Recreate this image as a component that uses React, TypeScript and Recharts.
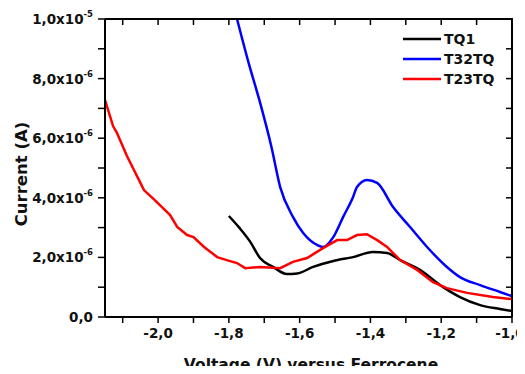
import { Label, Line, LineChart, XAxis, YAxis } from 'recharts'

// Voltage (V vs Fc) and current in units of 1e-6 A.
const tq1Voltage = [-1.8, -1.77, -1.74, -1.712, -1.675, -1.636, -1.607, -1.562, -1.505, -1.449, -1.393, -1.353, -1.316, -1.26, -1.203, -1.147, -1.09, -1.034, -1.0]
const tq1Current = [3.39, 2.99, 2.53, 1.98, 1.68, 1.44, 1.46, 1.68, 1.88, 2.01, 2.18, 2.15, 1.91, 1.58, 1.07, 0.67, 0.4, 0.27, 0.2]

const t32Voltage = [-1.777, -1.745, -1.712, -1.68, -1.655, -1.619, -1.59, -1.551, -1.534, -1.505, -1.477, -1.449, -1.438, -1.41, -1.381, -1.336, -1.288, -1.24, -1.184, -1.147, -1.09, -1.034, -1.0]
const t32Current = [10.0, 8.56, 7.2, 5.72, 4.36, 3.36, 2.82, 2.42, 2.35, 2.68, 3.36, 4.03, 4.36, 4.6, 4.5, 3.69, 3.02, 2.35, 1.68, 1.34, 1.07, 0.84, 0.7]

const t23Voltage = [-2.15, -2.127, -2.117, -2.088, -2.05, -2.04, -2.01, -1.966, -1.946, -1.918, -1.9, -1.87, -1.833, -1.806, -1.777, -1.754, -1.712, -1.655, -1.619, -1.579, -1.534, -1.494, -1.466, -1.438, -1.41, -1.381, -1.353, -1.316, -1.268, -1.223, -1.184, -1.127, -1.054, -1.0]
const t23Current = [7.28, 6.4, 6.2, 5.4, 4.5, 4.26, 3.93, 3.42, 3.02, 2.75, 2.68, 2.35, 2.01, 1.91, 1.81, 1.64, 1.68, 1.64, 1.85, 1.98, 2.31, 2.58, 2.58, 2.75, 2.78, 2.58, 2.35, 1.91, 1.58, 1.17, 0.97, 0.81, 0.67, 0.6]

const xTicks = [-2.1, -2.0, -1.9, -1.8, -1.7, -1.6, -1.5, -1.4, -1.3, -1.2, -1.1, -1.0]
const yTicks = [0, 1, 2, 3, 4, 5, 6, 7, 8, 9, 10]

const X_DOMAIN: [number, number] = [-2.15, -1.0]
const Y_DOMAIN: [number, number] = [0, 10]

const SERIES = [
  { name: 'TQ1', color: '#000000', voltage: tq1Voltage, current: tq1Current, curve: 'monotone' },
  { name: 'T32TQ', color: '#0000ff', voltage: t32Voltage, current: t32Current, curve: 'monotone' },
  { name: 'T23TQ', color: '#ff0000', voltage: t23Voltage, current: t23Current, curve: 'linear' },
] as const

const W = 525
const H = 374
const MARGIN = { top: 19, right: 13, bottom: 0, left: 8 }
const Y_AXIS_W = 97
const X_AXIS_H = 57
const PLOT = {
  left: MARGIN.left + Y_AXIS_W,
  right: W - MARGIN.right,
  top: MARGIN.top,
  bottom: H - MARGIN.bottom - X_AXIS_H,
}

const FONT = '"DejaVu Sans", sans-serif'
const AXIS_LINE = { stroke: '#000', strokeWidth: 2 }
const TICK_LINE = { stroke: '#000', strokeWidth: 1.5 }

function toPoints(voltage: readonly number[], current: readonly number[]) {
  return voltage.map((v, i) => ({ v, i: current[i] }))
}

function XTick(props: any) {
  const { x, y, payload } = props
  const v = payload.value as number
  if (Math.round(v * 10) % 2 !== 0) return null
  // last label sits at the right edge of the image; nudge it so it stays whole
  const dx = v > -1.05 ? -2 : 0
  return (
    <text x={x + dx} y={y + 10} textAnchor="middle" fontFamily={FONT} fontWeight="bold" fontSize={13.5} fill="#111">
      {v.toFixed(1).replace('.', ',')}
    </text>
  )
}

function YTick(props: any) {
  const { x, y, payload } = props
  const k = Math.round(payload.value)
  if (k % 2 !== 0) return null
  let mant = '0,0'
  let exp = ''
  if (k === 10) {
    mant = '1,0x10'
    exp = '-5'
  } else if (k > 0) {
    mant = `${k},0x10`
    exp = '-6'
  }
  return (
    <text x={x} y={y + 5} textAnchor="end" fontFamily={FONT} fontWeight="bold" fontSize={13.5} fill="#111">
      {mant}
      {exp && (
        <tspan dy={-7} fontSize={8.5}>
          {exp}
        </tspan>
      )}
    </text>
  )
}

// x-axis title plus the top/right frame edges with inward ticks, drawn inside the chart svg
function XTitleAndFrame() {
  const sx = (v: number) => PLOT.left + ((v - X_DOMAIN[0]) / (X_DOMAIN[1] - X_DOMAIN[0])) * (PLOT.right - PLOT.left)
  const sy = (v: number) => PLOT.bottom - ((v - Y_DOMAIN[0]) / (Y_DOMAIN[1] - Y_DOMAIN[0])) * (PLOT.bottom - PLOT.top)
  return (
    <g>
      <text x={311} y={370} textAnchor="middle" fontFamily={FONT} fontWeight="bold" fontSize={15.5} fill="#111">
        Voltage (V) versus Ferrocene
      </text>
      <path
        d={`M${PLOT.left},${PLOT.top}H${PLOT.right}V${PLOT.bottom}`}
        fill="none"
        stroke="#000"
        strokeWidth={2}
      />
      {xTicks.map((t) => (
        <line key={`x${t}`} x1={sx(t)} x2={sx(t)} y1={PLOT.top} y2={PLOT.top + 6} stroke="#000" strokeWidth={1.5} />
      ))}
      {yTicks.map((t) => (
        <line key={`y${t}`} x1={PLOT.right} x2={PLOT.right - 6} y1={sy(t)} y2={sy(t)} stroke="#000" strokeWidth={1.5} />
      ))}
    </g>
  )
}

function LegendBox() {
  return (
    <div
      style={{
        position: 'absolute',
        left: 403,
        top: 29,
        fontFamily: FONT,
        fontWeight: 'bold',
        fontSize: 14,
        color: '#111',
        lineHeight: '20px',
      }}
    >
      {SERIES.map((s) => (
        <div key={s.name} style={{ display: 'flex', alignItems: 'center', height: 20 }}>
          <svg width={38} height={6} style={{ marginRight: 3 }}>
            <line x1={0} y1={3} x2={38} y2={3} stroke={s.color} strokeWidth={2.5} />
          </svg>
          <span>{s.name}</span>
        </div>
      ))}
    </div>
  )
}

export default function App() {
  return (
    <div style={{ position: 'relative', margin: -8, width: W, height: H, background: '#fff' }}>
      <LineChart width={W} height={H} margin={MARGIN}>
        <XAxis
          dataKey="v"
          type="number"
          domain={X_DOMAIN}
          ticks={xTicks}
          allowDataOverflow
          height={X_AXIS_H}
          tick={<XTick />}
          tickSize={6}
          tickMargin={5}
          axisLine={AXIS_LINE}
          tickLine={TICK_LINE}
        >
          <Label content={() => <XTitleAndFrame />} />
        </XAxis>
        <YAxis
          type="number"
          domain={Y_DOMAIN}
          ticks={yTicks}
          allowDataOverflow
          width={Y_AXIS_W}
          tick={<YTick />}
          tickSize={7}
          tickMargin={5}
          axisLine={AXIS_LINE}
          tickLine={TICK_LINE}
        >
          <Label
            content={() => (
              <text
                transform="translate(27,174) rotate(-90)"
                x={0}
                y={0}
                textAnchor="middle"
                fontFamily={FONT}
                fontWeight="bold"
                fontSize={16.5}
                fill="#111"
              >
                Current (A)
              </text>
            )}
          />
        </YAxis>
        {SERIES.map((s) => (
          <Line
            key={s.name}
            name={s.name}
            data={toPoints(s.voltage, s.current)}
            dataKey="i"
            type={s.curve}
            stroke={s.color}
            strokeWidth={2.5}
            dot={false}
            isAnimationActive={false}
          />
        ))}
      </LineChart>
      <LegendBox />
    </div>
  )
}
